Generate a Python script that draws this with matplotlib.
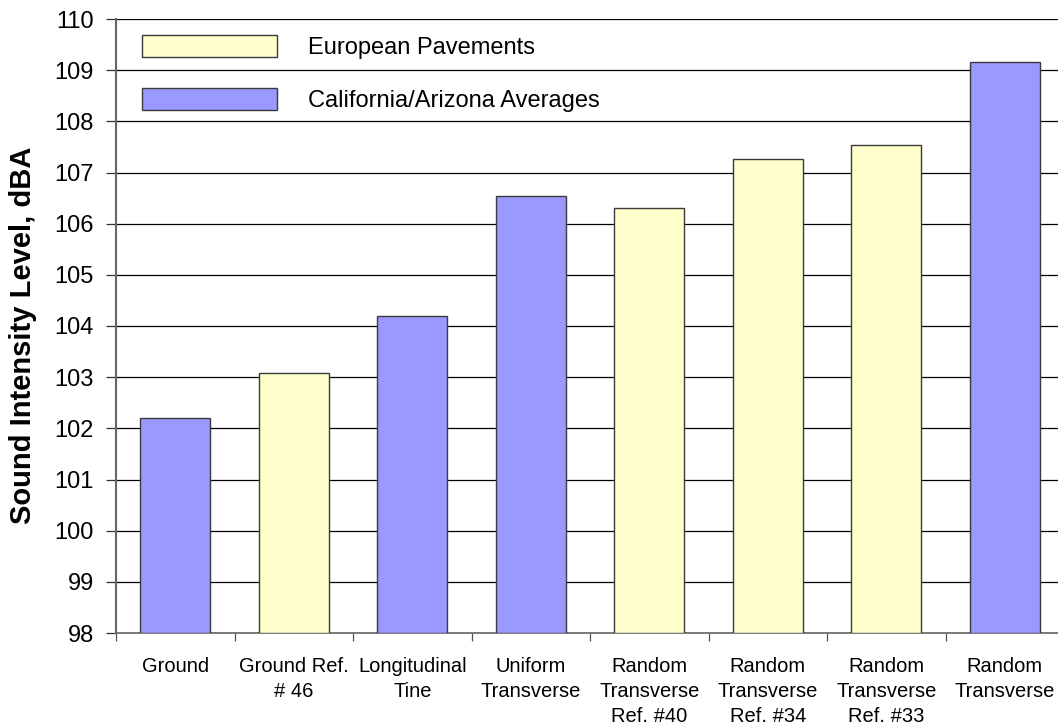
import matplotlib
matplotlib.use("Agg")
import matplotlib.pyplot as plt
from matplotlib.patches import Patch
from matplotlib.ticker import FixedLocator, MultipleLocator

plt.rcParams["font.family"] = ["Liberation Sans", "DejaVu Sans"]

# values
categories = [
    "Ground", "Ground Ref.\n# 46", "Longitudinal\nTine", "Uniform\nTransverse",
    "Random\nTransverse\nRef. #40", "Random\nTransverse\nRef. #34",
    "Random\nTransverse\nRef. #33", "Random\nTransverse",
]
levels = [102.2, 103.08, 104.2, 106.54, 106.3, 107.27, 107.54, 109.16]
source = ["CA", "EU", "CA", "CA", "EU", "EU", "EU", "CA"]

series_labels = {"EU": "European Pavements", "CA": "California/Arizona Averages"}
colors = {"EU": "#FFFFCC", "CA": "#9999FF"}

fig = plt.figure(figsize=(10.58, 7.28), dpi=100)
ax = fig.add_axes([116 / 1058, 95 / 728, 948 / 1058, 614 / 728])

x = range(len(categories))
ax.bar(x, [v - 98 for v in levels], bottom=98, width=0.593,
       color=[colors[s] for s in source], edgecolor="#3a3a3a", lw=1.0, zorder=3)

ax.set_ylim(98, 110)
ax.set_xlim(-0.5, len(categories) - 0.5)
ax.yaxis.set_major_locator(MultipleLocator(1))
ax.grid(axis="y", color="#000000", lw=0.9, zorder=0)
ax.set_axisbelow(True)

# ticks at category boundaries, labels centred under bars
ax.xaxis.set_major_locator(FixedLocator([i - 0.5 for i in range(len(categories) + 1)]))
ax.xaxis.set_minor_locator(FixedLocator(list(x)))
ax.xaxis.set_major_formatter(plt.NullFormatter())
ax.set_xticklabels(categories, minor=True, fontsize=14.5, linespacing=1.42)
ax.tick_params(axis="x", which="major", length=6, width=0.9, color="#555555", direction="out")
ax.tick_params(axis="x", which="minor", length=0, pad=17)
ax.tick_params(axis="y", length=7, width=0.9, color="#333333", direction="out",
               labelsize=17, pad=9)

for side in ("top", "right"):
    ax.spines[side].set_visible(False)
ax.spines["left"].set_color("#666666")
ax.spines["left"].set_linewidth(1.5)
ax.spines["bottom"].set_color("#666666")
ax.spines["bottom"].set_linewidth(1.2)

ax.set_ylabel("Sound Intensity Level, dBA", fontsize=21, fontweight="bold")
ax.yaxis.set_label_coords(-0.083, 0.485)

handles = [Patch(facecolor=colors[k], edgecolor="#3a3a3a", lw=1.0) for k in ("EU", "CA")]
ax.legend(handles, [series_labels[k] for k in ("EU", "CA")], loc="upper left",
          bbox_to_anchor=(17 / 948, 1 - 7 / 614), frameon=False, fontsize=17,
          handlelength=5.7, handleheight=1.05, handletextpad=1.3, labelspacing=1.2,
          borderaxespad=0)

fig.savefig("out.png", dpi=100)
